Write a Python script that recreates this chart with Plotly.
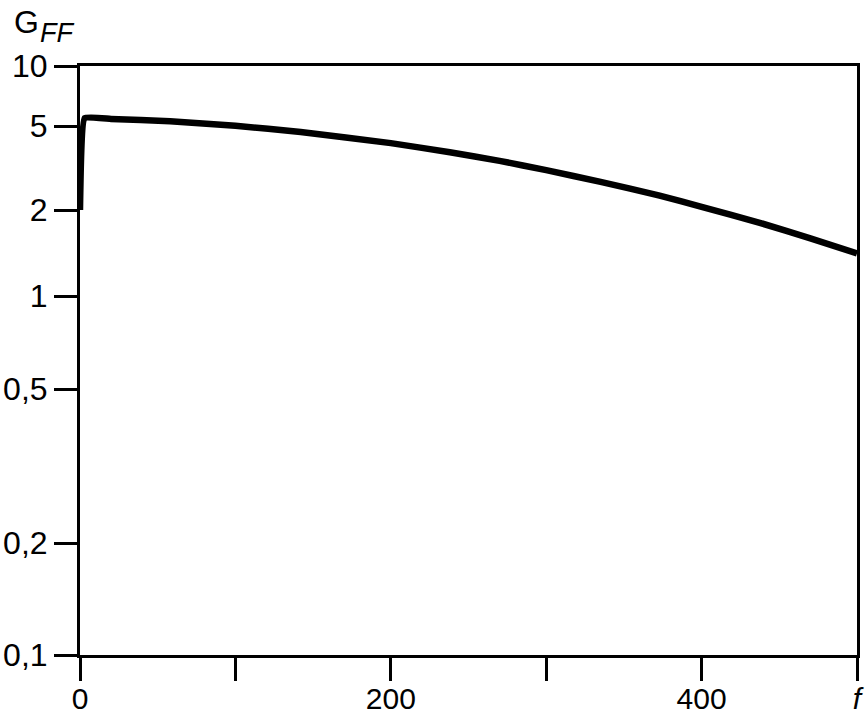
import numpy as np
import plotly.graph_objects as go

# ---- data ----
f_vals = [0, 3, 20, 58, 100, 142, 200, 238, 270, 300, 335, 373, 400, 438, 470, 500]
g_vals = [2.0, 5.48, 5.43, 5.28, 5.02, 4.69, 4.15, 3.76, 3.42, 3.09, 2.72, 2.34, 2.07, 1.80, 1.59, 1.41]

x_tick_vals = [0, 100, 200, 300, 400, 500]
x_tick_text = ["0", "", "200", "", "400", "<i>f</i>"]

y_tick_vals = [0.1, 0.2, 0.5, 1, 2, 5, 10]
y_tick_text = ["0,1", "0,2", "0,5", "1", "2", "5", "10"]

# The printed y scale is a non-uniform (hand-drawn) logarithmic scale:
# fraction of axis height assigned to each tick value.
scale_frac = [0.0, 0.190, 0.4516, 0.6095, 0.7555, 0.898, 1.0]


def to_axis(v):
    return np.interp(np.log10(np.asarray(v, dtype=float)), np.log10(y_tick_vals), scale_frac)


FONT = "Liberation Sans, Arial, sans-serif"

fig = go.Figure()
fig.add_trace(go.Scatter(
    x=f_vals, y=to_axis(g_vals), mode="lines",
    line=dict(color="black", width=6.5, shape="spline", smoothing=0.3),
    cliponaxis=False, showlegend=False,
))

fig.update_layout(
    width=866, height=720,
    margin=dict(l=80, r=9, t=66, b=65, autoexpand=False),
    paper_bgcolor="white", plot_bgcolor="white",
    font=dict(family=FONT, size=32, color="black"),
    xaxis=dict(
        range=[0, 500], tickvals=x_tick_vals, ticktext=x_tick_text,
        showline=True, mirror=True, linecolor="black", linewidth=3,
        ticks="outside", ticklen=23, tickwidth=2.5, tickcolor="black",
        showgrid=False, zeroline=False, automargin=False,
        ticklabelstandoff=-8,
        tickfont=dict(family=FONT, size=30, color="black"),
    ),
    yaxis=dict(
        range=[0, 1], tickvals=to_axis(y_tick_vals).tolist(), ticktext=y_tick_text,
        showline=True, mirror=True, linecolor="black", linewidth=3,
        ticks="outside", ticklen=23, tickwidth=2.5, tickcolor="black",
        showgrid=False, zeroline=False, automargin=False,
        tickfont=dict(family=FONT, size=32, color="black"),
    ),
    annotations=[
        dict(text="G", xref="paper", yref="paper",
             x=(12 - 80) / 777, y=(655 - 22) / 589, xanchor="left", yanchor="middle",
             showarrow=False, font=dict(family=FONT, size=32, color="black")),
        dict(text="<i>FF</i>", xref="paper", yref="paper",
             x=(38 - 80) / 777, y=(655 - 33) / 589, xanchor="left", yanchor="middle",
             showarrow=False, font=dict(family=FONT, size=27, color="black")),
    ],
)

fig.write_html(
    "out.html",
    config={"displayModeBar": False},
    post_script="document.body.style.margin='0';document.body.style.overflow='hidden';",
)
